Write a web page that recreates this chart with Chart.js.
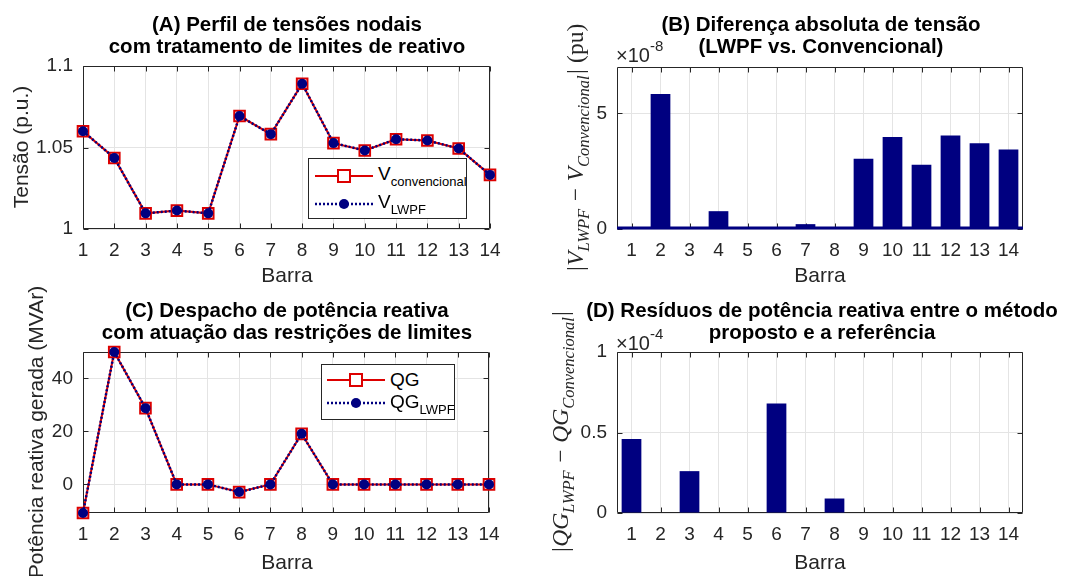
<!DOCTYPE html>
<html>
<head>
<meta charset="utf-8">
<script src="https://cdn.jsdelivr.net/npm/chart.js@4.4.1/dist/chart.umd.min.js"></script>
<style>
  html, body { margin: 0; padding: 0; background: #fff; }
  #fig { position: relative; width: 1068px; height: 576px; overflow: hidden;
         font-family: "Liberation Sans", Arial, sans-serif; color: #262626; }
  #fig canvas { position: absolute; }
  .t { position: absolute; white-space: nowrap; transform: translate(-50%, -50%); }
  .title { font-weight: bold; font-size: 20.5px; line-height: 22px; color: #000; text-align: center; }
  .xl { font-size: 21px; }
  .yl { font-size: 21px; transform: translate(-50%, -50%) rotate(-90deg); }
  .math { font-family: "Liberation Serif", "Times New Roman", serif; font-size: 23.5px; }
  .math i sub { font-size: 16.5px; }
  .expo { position: absolute; font-size: 20px; white-space: nowrap; }
  .expo sup { font-size: 15px; position: relative; top: -3px; }
  .leg { position: absolute; background: #fff; border: 1px solid #262626; box-sizing: border-box; }
  .leg svg { position: absolute; }
  .leg span { position: absolute; font-size: 19px; line-height: 20px; white-space: nowrap; color: #000; }
  .leg sub { font-size: 13px; vertical-align: -6px; }
</style>
</head>
<body>
<div id="fig">
  <canvas id="cA" width="534" height="288" style="left:0;top:0"></canvas>
  <canvas id="cB" width="534" height="288" style="left:534px;top:0"></canvas>
  <canvas id="cC" width="534" height="288" style="left:0;top:288px"></canvas>
  <canvas id="cD" width="534" height="288" style="left:534px;top:288px"></canvas>

  <div class="t title" style="left:287px;top:35px">(A) Perfil de tensões nodais<br>com tratamento de limites de reativo</div>
  <div class="t title" style="left:821px;top:35px">(B) Diferença absoluta de tensão<br>(LWPF vs. Convencional)</div>
  <div class="t title" style="left:287px;top:321px">(C) Despacho de potência reativa<br>com atuação das restrições de limites</div>
  <div class="t title" style="left:822px;top:321px">(D) Resíduos de potência reativa entre o método<br>proposto e a referência</div>

  <div class="t xl" style="left:287px;top:275px">Barra</div>
  <div class="t xl" style="left:820px;top:275px">Barra</div>
  <div class="t xl" style="left:287px;top:562px">Barra</div>
  <div class="t xl" style="left:820px;top:562px">Barra</div>

  <div class="t yl" style="left:21px;top:147px">Tensão (p.u.)</div>
  <div class="t yl" style="left:36px;top:432px">Potência reativa gerada (MVAr)</div>
  <div class="t yl math" style="left:578px;top:148px"><i>|V<sub>LWPF</sub> − V<sub>Convencional</sub>|</i> (pu)</div>
  <div class="t yl math" style="left:563px;top:432px"><i>|QG<sub>LWPF</sub> − QG<sub>Convencional</sub>|</i></div>

  <div class="expo" style="left:616px;top:40px">×10<sup>-8</sup></div>
  <div class="expo" style="left:616px;top:328px">×10<sup>-4</sup></div>

  <div class="leg" style="left:308px;top:158px;width:159px;height:61px">
    <svg style="left:6px;top:10px" width="58" height="14">
      <line x1="0" y1="7" x2="58" y2="7" stroke="#dd0000" stroke-width="2"/>
      <rect x="23" y="1" width="12" height="12" fill="#fff" stroke="#dd0000" stroke-width="2"/>
    </svg>
    <span style="left:69px;top:5px">V<sub>convencional</sub></span>
    <svg style="left:6px;top:38px" width="58" height="14">
      <line x1="0" y1="7" x2="58" y2="7" stroke="#000080" stroke-width="2.5" stroke-dasharray="2 2"/>
      <circle cx="29" cy="7" r="5" fill="#000080"/>
    </svg>
    <span style="left:69px;top:33px">V<sub>LWPF</sub></span>
  </div>

  <div class="leg" style="left:321px;top:364px;width:134px;height:56px">
    <svg style="left:5px;top:8px" width="58" height="14">
      <line x1="0" y1="7" x2="58" y2="7" stroke="#dd0000" stroke-width="2"/>
      <rect x="23" y="1" width="12" height="12" fill="#fff" stroke="#dd0000" stroke-width="2"/>
    </svg>
    <span style="left:68px;top:5px">QG</span>
    <svg style="left:5px;top:31px" width="58" height="14">
      <line x1="0" y1="7" x2="58" y2="7" stroke="#000080" stroke-width="2.5" stroke-dasharray="2 2"/>
      <circle cx="29" cy="7" r="5" fill="#000080"/>
    </svg>
    <span style="left:68px;top:27px">QG<sub>LWPF</sub></span>
  </div>
</div>

<script>
// ---- data ----
const barras = ["1", "2", "3", "4", "5", "6", "7", "8", "9", "10", "11", "12", "13", "14"];

// (A) nodal voltage, p.u.
const tensaoConvencional = [1.060, 1.0436, 1.0096, 1.0113, 1.0096, 1.0693, 1.0582, 1.0891, 1.0527, 1.0482, 1.0551, 1.0543, 1.0494, 1.0332];
const tensaoLWPF         = [1.060, 1.0436, 1.0096, 1.0113, 1.0096, 1.0693, 1.0582, 1.0891, 1.0527, 1.0482, 1.0551, 1.0543, 1.0494, 1.0332];
const ticksTensao = [1, 1.05, 1.1];

// (B) |V_LWPF - V_conv|, in units of 1e-8 pu
const difTensao = [0, 5.83, 0, 0.77, 0, 0, 0.21, 0, 3.04, 3.97, 2.78, 4.04, 3.70, 3.44];
const ticksDif = [0, 5];

// (C) reactive generation, MVAr
const qgConvencional = [-10.8, 50, 28.8, 0, 0, -2.9, 0, 19.1, 0, 0, 0, 0, 0, 0];
const qgLWPF         = [-10.8, 50, 28.8, 0, 0, -2.9, 0, 19.1, 0, 0, 0, 0, 0, 0];
const ticksQG = [0, 20, 40];

// (D) |QG_LWPF - QG_conv|, in units of 1e-4
const residuoQG = [0.46, 0, 0.26, 0, 0, 0.68, 0, 0.09, 0, 0, 0, 0, 0, 0];
const ticksResiduo = [0, 0.5, 1];

const FONT = '"Liberation Sans", Arial, sans-serif';
const AXIS = "#262626";
const GRID = "#e4e4e4";
const RED = "#dd0000";
const NAVY = "#000080";

// MATLAB-ish axes: full box, inward ticks, optional coloured baseline at y = 0
const matlabBox = {
    id: "matlabBox",
    beforeDatasetsDraw(chart) {
        const { ctx, chartArea: a, scales: { x, y } } = chart;
        const L = Math.round(a.left) + 0.5, R = Math.round(a.right) - 0.5;
        const T = Math.round(a.top) + 0.5, B = Math.round(a.bottom) - 0.5;
        ctx.save();
        ctx.strokeStyle = AXIS;
        ctx.lineWidth = 1;
        ctx.beginPath();
        x.ticks.forEach((t, i) => {
            const px = Math.round(x.getPixelForTick(i)) + 0.5;
            ctx.moveTo(px, B); ctx.lineTo(px, B - 5);
            ctx.moveTo(px, T); ctx.lineTo(px, T + 5);
        });
        y.ticks.forEach(t => {
            const py = Math.round(y.getPixelForValue(t.value)) + 0.5;
            ctx.moveTo(L, py); ctx.lineTo(L + 5, py);
            ctx.moveTo(R, py); ctx.lineTo(R - 5, py);
        });
        ctx.rect(L, T, R - L, B - T);
        ctx.stroke();
        ctx.restore();
    },
    afterDatasetsDraw(chart, args, opts) {
        if (!opts.baseline) return;
        const { ctx, chartArea: a, scales: { y } } = chart;
        const py = y.getPixelForValue(0);
        ctx.save();
        ctx.strokeStyle = opts.baseline;
        ctx.lineWidth = 3;
        ctx.beginPath();
        ctx.moveTo(a.left, py - 1); ctx.lineTo(a.right, py - 1);
        ctx.stroke();
        ctx.restore();
    }
};

function axes(opts) {
    // fixed margins so the plot boxes land where the figure has them
    return {
        x: {
            offset: opts.bars,
            grid: { color: GRID, drawTicks: false, offset: false },
            border: { display: false },
            ticks: { color: AXIS, font: { family: FONT, size: 19 }, padding: 10, maxRotation: 0, autoSkip: false },
            afterFit: s => { s.height = opts.bottom; }
        },
        y: {
            min: opts.min, max: opts.max,
            grid: { color: GRID, drawTicks: false },
            border: { display: false },
            ticks: { color: AXIS, font: { family: FONT, size: 19 }, padding: 10, callback: v => String(v) },
            afterBuildTicks: s => { s.ticks = opts.ticks.map(v => ({ value: v })); },
            afterFit: s => { s.width = 83; }
        }
    };
}

function baseOptions(opts) {
    return {
        responsive: false, animation: false, devicePixelRatio: 1,
        layout: { padding: { top: opts.top, right: opts.right, left: 0, bottom: 0 } },
        plugins: { legend: { display: false }, tooltip: { enabled: false }, matlabBox: { baseline: opts.baseline || null } },
        scales: axes(opts)
    };
}

function lineSets(conv, lwpf) {
    return [
        {
            data: lwpf, order: 0, clip: false,
            borderColor: NAVY, borderWidth: 2.5, borderDash: [2, 2],
            pointStyle: "circle", pointRadius: 5, pointBackgroundColor: NAVY, pointBorderColor: NAVY, pointBorderWidth: 0
        },
        {
            data: conv, order: 1, clip: false,
            borderColor: RED, borderWidth: 2,
            pointStyle: "rect", pointRadius: 7.5, pointBackgroundColor: "rgba(255,255,255,0)",
            pointBorderColor: RED, pointBorderWidth: 2
        }
    ];
}

new Chart(document.getElementById("cA"), {
    type: "line",
    data: { labels: barras, datasets: lineSets(tensaoConvencional, tensaoLWPF) },
    options: baseOptions({ top: 66, right: 44, bottom: 59, min: 1, max: 1.1, ticks: ticksTensao, bars: false }),
    plugins: [matlabBox]
});

new Chart(document.getElementById("cB"), {
    type: "bar",
    data: { labels: barras, datasets: [{ data: difTensao, backgroundColor: NAVY, barPercentage: 0.68, categoryPercentage: 1 }] },
    options: baseOptions({ top: 67, right: 45, bottom: 59, min: 0, max: 7, ticks: ticksDif, bars: true, baseline: NAVY }),
    plugins: [matlabBox]
});

new Chart(document.getElementById("cC"), {
    type: "line",
    data: { labels: barras, datasets: lineSets(qgConvencional, qgLWPF) },
    options: baseOptions({ top: 64, right: 45, bottom: 63, min: -10.8, max: 50, ticks: ticksQG, bars: false }),
    plugins: [matlabBox]
});

new Chart(document.getElementById("cD"), {
    type: "bar",
    data: { labels: barras, datasets: [{ data: residuoQG, backgroundColor: NAVY, barPercentage: 0.68, categoryPercentage: 1 }] },
    options: baseOptions({ top: 64, right: 45, bottom: 63, min: 0, max: 1, ticks: ticksResiduo, bars: true }),
    plugins: [matlabBox]
});
</script>
</body>
</html>
